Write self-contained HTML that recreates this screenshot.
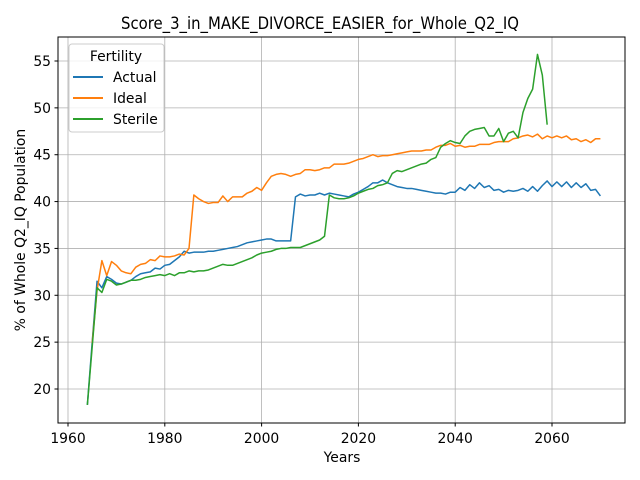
<!DOCTYPE html>
<html><head><meta charset="utf-8"><style>
body{margin:0;background:#fff}
svg{display:block;font-family:"DejaVu Sans","Liberation Sans",sans-serif}
</style></head><body>
<svg id="chart" width="640" height="480" viewBox="0 0 640 480">
<rect width="640" height="480" fill="#fff"/>
<g id="grid"></g>
<g id="series"></g>
<rect x="58" y="37" width="567" height="386" fill="none" stroke="#000" stroke-width="1"/>
<g id="axes"></g>
<text x="320" y="29" text-anchor="middle" font-size="16.7" textLength="398" lengthAdjust="spacingAndGlyphs">Score_3_in_MAKE_DIVORCE_EASIER_for_Whole_Q2_IQ</text>
<text x="342" y="462" text-anchor="middle" font-size="13.9">Years</text>
<text transform="translate(25,230) rotate(-90)" text-anchor="middle" font-size="13.9">% of Whole Q2_IQ Population</text>
<g>
<rect x="69" y="44" width="95" height="88" rx="3" fill="#fff" fill-opacity="0.8" stroke="#ccc"/>
<text x="116" y="61" text-anchor="middle" font-size="13.9">Fertility</text>
<line x1="73" y1="77" x2="103" y2="77" stroke="#1f77b4" stroke-width="2"/>
<text x="113" y="82" font-size="13.9">Actual</text>
<line x1="73" y1="98" x2="103" y2="98" stroke="#ff7f0e" stroke-width="2"/>
<text x="113" y="103" font-size="13.9">Ideal</text>
<line x1="73" y1="119" x2="103" y2="119" stroke="#2ca02c" stroke-width="2"/>
<text x="113" y="124" font-size="13.9">Sterile</text>
</g>
</svg>
<script>
const xTicks=[1960,1980,2000,2020,2040,2060];
const yTicks=[20,25,30,35,40,45,50,55];
const actualStart=1964;
const actual=[18.3,25,31.5,30.8,32.0,31.7,31.3,31.2,31.4,31.6,32.0,32.3,32.4,32.5,32.9,32.8,33.2,33.3,33.7,34.1,34.7,34.5,34.6,34.6,34.6,34.7,34.7,34.8,34.9,35.0,35.1,35.2,35.4,35.6,35.7,35.8,35.9,36.0,36.0,35.8,35.8,35.8,35.8,40.5,40.8,40.6,40.7,40.7,40.9,40.7,40.9,40.8,40.7,40.6,40.5,40.8,41.0,41.3,41.6,42.0,42.0,42.3,42.0,41.8,41.6,41.5,41.4,41.4,41.3,41.2,41.1,41.0,40.9,40.9,40.8,41.0,41.0,41.5,41.2,41.8,41.4,42.0,41.5,41.7,41.2,41.3,41.0,41.2,41.1,41.2,41.4,41.1,41.6,41.1,41.7,42.2,41.6,42.1,41.6,42.1,41.5,42.0,41.5,41.9,41.2,41.3,40.6];
const idealStart=1965;
const ideal=[24.9,30.5,33.7,32.1,33.6,33.2,32.6,32.4,32.3,33.0,33.3,33.4,33.8,33.7,34.2,34.1,34.1,34.2,34.4,34.3,35.0,40.7,40.3,40.0,39.8,39.9,39.9,40.6,40.0,40.5,40.5,40.5,40.9,41.1,41.5,41.2,42.0,42.7,42.9,43.0,42.9,42.7,42.9,43.0,43.4,43.4,43.3,43.4,43.6,43.6,44.0,44.0,44.0,44.1,44.3,44.5,44.6,44.8,45.0,44.8,44.9,44.9,45.0,45.1,45.2,45.3,45.4,45.4,45.4,45.5,45.5,45.8,46.0,46.0,46.2,45.9,46.0,45.8,45.9,45.9,46.1,46.1,46.1,46.3,46.4,46.4,46.4,46.7,46.8,47.0,47.1,46.9,47.2,46.7,47.0,46.8,47.0,46.8,47.0,46.6,46.7,46.4,46.6,46.3,46.7,46.7];
const sterileStart=1964;
const sterile=[18.3,24.5,30.8,30.3,31.7,31.5,31.1,31.2,31.4,31.6,31.6,31.7,31.9,32.0,32.1,32.2,32.1,32.3,32.1,32.4,32.4,32.6,32.5,32.6,32.6,32.7,32.9,33.1,33.3,33.2,33.2,33.4,33.6,33.8,34.0,34.3,34.5,34.6,34.7,34.9,35.0,35.0,35.1,35.1,35.1,35.3,35.5,35.7,35.9,36.3,40.7,40.4,40.3,40.3,40.4,40.6,40.9,41.1,41.3,41.4,41.7,41.8,42.0,43.0,43.3,43.2,43.4,43.6,43.8,44.0,44.1,44.5,44.7,45.8,46.2,46.5,46.3,46.2,47.0,47.5,47.7,47.8,47.9,47.0,47.0,47.8,46.4,47.3,47.5,46.8,49.5,51.0,52.0,55.7,53.5,48.2];

const X=y=>68+(y-1960)*(552-68)/100;
const Y=v=>389-(v-20)*(389-61)/35;
const NS="http://www.w3.org/2000/svg";
const grid=document.getElementById('grid'),axes=document.getElementById('axes'),ser=document.getElementById('series');
function mk(tag,attrs,parent){const e=document.createElementNS(NS,tag);for(const k in attrs)e.setAttribute(k,attrs[k]);parent.appendChild(e);return e;}
xTicks.forEach(t=>{const x=X(t);
 const g=mk('line',{x1:x,x2:x,y1:37,y2:423,stroke:'#b0b0b0','stroke-width':0.8},grid);
 
 
 mk('line',{x1:x,x2:x,y1:423,y2:426.5,stroke:'#000'},axes);
 const tx=mk('text',{x:x,y:443,'text-anchor':'middle','font-size':13.9},axes);tx.textContent=t;
 
 
});
yTicks.forEach(t=>{const y=Y(t);
 const g=mk('line',{x1:58,x2:625,y1:y,y2:y,stroke:'#b0b0b0','stroke-width':0.8},grid);
 
 
 mk('line',{x1:54.5,x2:58,y1:y,y2:y,stroke:'#000'},axes);
 const tx=mk('text',{x:51,y:y+5,'text-anchor':'end','font-size':13.9},axes);tx.textContent=t;
 
 
});
function line(data,start,color,name){
 const pts=data.map((v,i)=>X(start+i).toFixed(2)+','+Y(v).toFixed(2)).join(' ');
 const p=mk('polyline',{points:pts,fill:'none',stroke:color,'stroke-width':1.5,'stroke-linejoin':'round'},ser);
 
 
}
line(actual,actualStart,'#1f77b4','actual-line');
line(ideal,idealStart,'#ff7f0e','ideal-line');
line(sterile,sterileStart,'#2ca02c','sterile-line');
</script>
</body></html>
